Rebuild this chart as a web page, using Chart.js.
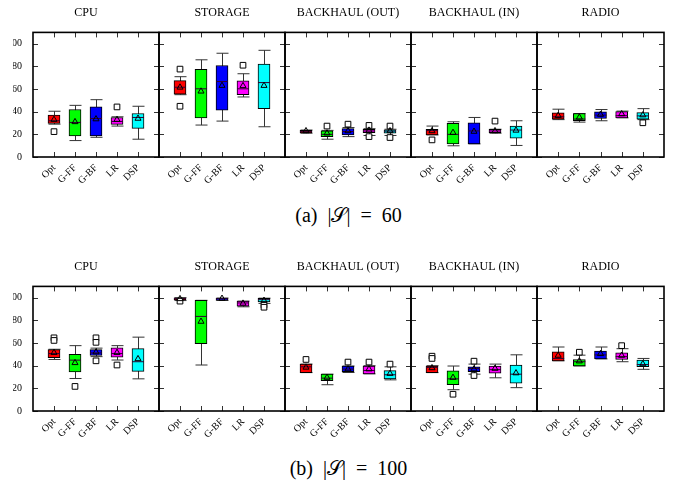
<!DOCTYPE html>
<html>
<head>
<meta charset="utf-8">
<script src="https://cdn.jsdelivr.net/npm/chart.js@4.4.1/dist/chart.umd.min.js"></script>
<style>
  body { margin: 0; background: #fff; width: 673px; height: 480px; position: relative; overflow: hidden; font-family: "Liberation Serif", serif; }
  canvas { position: absolute; }
  .cap { position: absolute; left: 33px; width: 631px; text-align: center; font-size: 20px; line-height: 22px; color: #000; word-spacing: 5px; }
</style>
</head>
<body>
<div class="cap" style="top:204px">(a) |𝒮| = 60</div>
<div class="cap" style="top:457px">(b) |𝒮| = 100</div>
<script>
const algos = ['Opt', 'G-FF', 'G-BF', 'LR', 'DSP'];
const resources = ['CPU', 'STORAGE', 'BACKHAUL (OUT)', 'BACKHAUL (IN)', 'RADIO'];
const yTicks = [0, 20, 40, 60, 80, 100];

// |S| = 60 -- one row per resource, one column per algorithm
const wlo60 = [[29, 14.5, 17.4, 27.3, 15.7], [55, 28.2, 31.7, 53, 26.7], [21, 15.7, 18, 19, 19], [19.5, 9.9, 11.6, 21, 10.2], [33, 30.8, 32, 34.6, 33]];
const q1_60 = [[29.7, 18.6, 18.6, 28.8, 25.3], [55.5, 34.6, 41.3, 55, 42.7], [21.2, 18, 19.5, 21.5, 21], [19.5, 11.6, 11.6, 21.5, 16.6], [33.4, 32, 34, 34.6, 33.4]];
const med60 = [[32, 30.5, 34, 31.4, 34.9], [61.6, 60.2, 66.6, 60.2, 65.7], [22.4, 20, 22.5, 23, 22.8], [23.3, 20, 23, 23, 23.8], [35.5, 33.5, 37, 36.5, 36.3]];
const q3_60 = [[36.9, 41.9, 44.2, 34.9, 38.4], [67.4, 77.3, 80.8, 67.2, 82], [23.6, 23, 25, 24.4, 24], [24.4, 29.7, 30.2, 24.4, 27.3], [39, 38.4, 39.8, 40.1, 39.2]];
const whi60 = [[40.4, 45.6, 50.6, 35.5, 44.8], [70.9, 85.8, 91.6, 73.5, 94.2], [23.8, 23.5, 26, 25, 24.5], [27.3, 31.1, 34.9, 24.5, 32], [42.2, 38.4, 41.9, 40.5, 42.7]];
const mean60 = [[33, 31, 33.5, 33, 34], [61.5, 58, 63, 62.8, 63], [23, 21, 23, 23.5, 23], [23, 21.5, 22.5, 23, 23.5], [36.5, 35, 37.5, 38, 37]];
const out60 = [
  [[22.4], [], [], [44.2], []],
  [[77.6, 44.8], [], [], [81], []],
  [[], [27.3], [29], [27.9, 18], [27.3, 17.2]],
  [[15.1], [], [], [31.7], []],
  [[], [], [], [], [30.2]]
];

// |S| = 100
const wlo100 = [[45.5, 28.7, 48, 45, 28.4], [97.5, 40.6, 97.7, 92, 95], [33.9, 23.2, 34, 32.8, 27.5], [33.9, 18.8, 32.5, 29.3, 20.6], [44.3, 39.7, 46, 43.5, 36.8]];
const q1_100 = [[47, 34.5, 49, 47.5, 35], [98, 59.4, 97.7, 92.5, 96.2], [33.9, 26.7, 34.8, 32.8, 28.4], [33.9, 23.2, 34.8, 33.3, 24.6], [44.3, 39.7, 46, 45.5, 39.1]];
const med100 = [[50.7, 44.9, 51.3, 50.7, 43.5], [99.2, 83.5, 99, 95.4, 98.3], [39, 29, 37, 35.7, 32], [38.5, 28.4, 37.5, 36.5, 32.5], [46.4, 43.5, 49.5, 48, 41]];
const q3_100 = [[54.2, 50.1, 54.2, 55.7, 55], [100, 97.7, 99.7, 97, 99.4], [41.4, 32.5, 39.7, 39.7, 35.7], [39.7, 35.4, 39.1, 39.7, 40.6], [52.2, 45.5, 53, 51.3, 44.9]];
const whi100 = [[54.5, 57.7, 55.5, 57.7, 65.2], [100, 97.7, 99.7, 97, 99.6], [41.4, 32.5, 39.7, 40, 39], [40, 39.7, 41.4, 41.4, 49.6], [56.5, 49.3, 56.5, 55, 46.4]];
const mean100 = [[51.5, 42.5, 52, 51.5, 46], [99, 79, 99.3, 95, 97.5], [38.5, 29.5, 37, 37, 33], [38, 29.5, 37, 37.5, 33.5], [49, 44, 50.5, 49, 41.5]];
const out100 = [
  [[64.6, 62.3], [21.7], [64.6, 60.6, 44.3], [40.6], []],
  [[97], [], [], [], [93.6, 91.6]],
  [[45.5], [], [43.2], [43.2], [41.4]],
  [[48.4, 46.4], [14.8], [44, 31.3], [], []],
  [[], [51.9], [], [57.7], []]
];

const boxColors = ['#ff0000', '#00ff00', '#0000ff', '#ff00ff', '#00ffff'];
const panelLeft = [33, 159, 285, 411, 537];
const panelWidth = [126, 126, 126, 126, 127];
const rowTop = [0, 254];
const serif = 'Liberation Serif';

function boxPlugin(st) {
  return {
    id: 'boxExtras',
    beforeDatasetsDraw(chart) {
      const { ctx, scales: { y } } = chart;
      const bars = chart.getDatasetMeta(0).data;
      ctx.save();
      ctx.strokeStyle = '#333';
      ctx.lineWidth = 1;
      bars.forEach((b, i) => {
        const x = Math.round(b.x) + 0.5, hw = b.width / 2;
        const top = y.getPixelForValue(st.whi[i]);
        const bot = y.getPixelForValue(st.wlo[i]);
        ctx.beginPath();
        ctx.moveTo(x, top); ctx.lineTo(x, bot);
        ctx.moveTo(x - hw, top); ctx.lineTo(x + hw, top);
        ctx.moveTo(x - hw, bot); ctx.lineTo(x + hw, bot);
        ctx.stroke();
      });
      ctx.restore();
    },
    afterDatasetDraw(chart, args) {
      if (args.index !== 0) return;
      const { ctx, scales: { y } } = chart;
      ctx.save();
      ctx.strokeStyle = '#300030';
      ctx.lineWidth = 1;
      args.meta.data.forEach((b, i) => {
        const my = y.getPixelForValue(st.med[i]);
        ctx.beginPath();
        ctx.moveTo(b.x - b.width / 2, my);
        ctx.lineTo(b.x + b.width / 2, my);
        ctx.stroke();
      });
      ctx.restore();
    },
    afterDraw(chart) {
      const { ctx, chartArea: a, scales: { x, y } } = chart;
      ctx.save();
      ctx.strokeStyle = '#333';
      ctx.lineWidth = 1;
      ctx.beginPath();
      y.ticks.forEach(t => {
        const py = Math.round(y.getPixelForValue(t.value)) + 0.5;
        ctx.moveTo(a.left, py); ctx.lineTo(a.left + 5, py);
        ctx.moveTo(a.right - 5, py); ctx.lineTo(a.right, py);
      });
      x.ticks.forEach(t => {
        const px = Math.round(x.getPixelForValue(t.value)) + 0.5;
        ctx.moveTo(px, a.top); ctx.lineTo(px, a.top + 5);
        ctx.moveTo(px, a.bottom - 5); ctx.lineTo(px, a.bottom);
      });
      ctx.stroke();
      ctx.strokeStyle = '#000';
      ctx.lineWidth = 1.6;
      ctx.strokeRect(a.left, a.top, a.right - a.left, a.bottom - a.top);
      ctx.restore();
    }
  };
}

function makePanel(row, r, st) {
  const first = r === 0;
  const canvas = document.createElement('canvas');
  const left = first ? 13 : panelLeft[r] - 2;
  const width = panelLeft[r] + panelWidth[r] + 2 - left;
  canvas.width = width;
  canvas.height = 200;
  canvas.style.left = left + 'px';
  canvas.style.top = rowTop[row] + 'px';
  document.body.appendChild(canvas);

  const outliers = [];
  st.out.forEach((list, i) => list.forEach(v => outliers.push({ x: i + 1, y: v })));

  new Chart(canvas, {
    type: 'bar',
    data: {
      datasets: [
        {
          type: 'bar', order: 3,
          data: algos.map((a, i) => ({ x: i + 1, y: [st.q1[i], st.q3[i]] })),
          backgroundColor: boxColors, borderColor: '#000', borderWidth: 1,
          borderSkipped: false, barThickness: 12
        },
        {
          type: 'scatter', order: 2, data: outliers,
          pointStyle: 'rect', pointRadius: 4, pointBorderWidth: 1,
          pointBorderColor: '#000', pointBackgroundColor: '#fff'
        },
        {
          type: 'scatter', order: 1,
          data: algos.map((a, i) => ({ x: i + 1, y: st.mean[i] })),
          pointStyle: 'triangle', pointRadius: 3.5, pointBorderWidth: 1,
          pointBorderColor: '#000', pointBackgroundColor: 'rgba(0,0,0,0)'
        }
      ]
    },
    options: {
      responsive: false,
      devicePixelRatio: 1,
      animation: false,
      layout: { autoPadding: false, padding: { left: first ? 0 : 2, right: 2, top: 0, bottom: 0 } },
      plugins: {
        legend: { display: false },
        tooltip: { enabled: false },
        title: {
          display: true, text: resources[r], color: '#000',
          font: { family: serif, size: 12, weight: 'normal' },
          padding: { top: 6, bottom: 12 }
        }
      },
      scales: {
        x: {
          type: 'linear', min: 0, max: 6, offset: false,
          afterBuildTicks: s => { s.ticks = algos.map((a, i) => ({ value: i + 1 })); },
          afterFit: s => { s.height = 43; s.paddingLeft = 0; s.paddingRight = 0; },
          grid: { display: false, drawTicks: false },
          border: { display: false },
          ticks: {
            autoSkip: false, minRotation: 45, maxRotation: 45, padding: 5,
            color: '#000', font: { family: serif, size: 10 },
            callback: v => algos[v - 1]
          }
        },
        y: {
          min: 0, max: 110,
          display: first,
          afterBuildTicks: s => { s.ticks = yTicks.map(v => ({ value: v })); },
          afterFit: s => { s.width = first ? 20 : 0; s.paddingTop = 0; s.paddingBottom = 0; },
          grid: { display: false, drawTicks: false },
          border: { display: false },
          ticks: { padding: 11, color: '#000', font: { family: serif, size: 10 } }
        }
      }
    },
    plugins: [boxPlugin(st)]
  });
}

function panelStats(r, wlo, q1, med, q3, whi, mean, out) {
  return { wlo: wlo[r], q1: q1[r], med: med[r], q3: q3[r], whi: whi[r], mean: mean[r], out: out[r] };
}

resources.forEach((name, r) => {
  makePanel(0, r, panelStats(r, wlo60, q1_60, med60, q3_60, whi60, mean60, out60));
  makePanel(1, r, panelStats(r, wlo100, q1_100, med100, q3_100, whi100, mean100, out100));
});
</script>
</body>
</html>
